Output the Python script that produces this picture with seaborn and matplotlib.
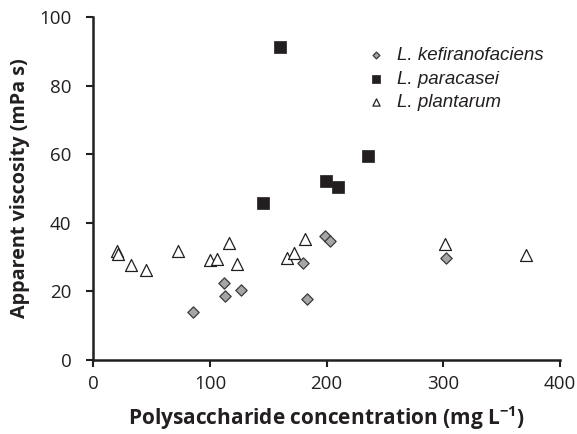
import numpy as np
import pandas as pd
import matplotlib
matplotlib.use("Agg")
import matplotlib.pyplot as plt
import seaborn as sns

# polysaccharide concentration (mg/L) vs apparent viscosity (mPa s)
kef_conc = [85.4, 111.7, 112.8, 126.3, 179.4, 183.4, 198.2, 202.7, 302.4]
kef_visc = [14.1, 22.4, 18.6, 20.4, 28.3, 17.8, 36.2, 34.7, 29.6]

para_conc = [145.7, 159.9, 199.1, 209.6, 235.3]
para_visc = [45.9, 91.2, 52.1, 50.4, 59.6]

plan_conc = [20.1, 21.2, 32.7, 45.5, 72.3, 100.3, 105.7, 116.6, 122.9,
             166.3, 172.3, 181.1, 301.8, 371.1]
plan_visc = [31.9, 31.0, 27.8, 26.3, 31.9, 29.3, 29.4, 34.0, 28.0,
             29.8, 31.1, 35.2, 33.7, 30.6]

species = ["L. kefiranofaciens", "L. paracasei", "L. plantarum"]

df = pd.concat([
    pd.DataFrame({"conc": kef_conc, "visc": kef_visc, "sp": species[0]}),
    pd.DataFrame({"conc": para_conc, "visc": para_visc, "sp": species[1]}),
    pd.DataFrame({"conc": plan_conc, "visc": plan_visc, "sp": species[2]}),
])

sns.set_style("ticks")
plt.rcParams['font.family'] = ['Open Sans', 'DejaVu Sans']
plt.rcParams['mathtext.fontset'] = 'custom'
plt.rcParams['mathtext.rm'] = 'Open Sans'
plt.rcParams['mathtext.bf'] = 'Open Sans:bold'

fig = plt.figure(figsize=(5.77, 4.34), dpi=100)
ax = fig.add_axes([0.1617, 0.1705, 0.8089, 0.7903])

styles = {
    species[0]: dict(marker="D", s=33, color="#a6a6a6", edgecolor="#3a3a3a", linewidth=0.9),
    species[1]: dict(marker="s", s=83, color="#231f20", edgecolor="#231f20", linewidth=0.5),
    species[2]: dict(marker="^", s=74, color="white", edgecolor="#231f20", linewidth=0.9),
}
for sp in species:
    sub = df[df["sp"] == sp]
    sns.scatterplot(data=sub, x="conc", y="visc", ax=ax, label=sp, zorder=3, **styles[sp])

ax.set_xlim(0, 400)
ax.set_ylim(0, 100)
ax.set_xticks([0, 100, 200, 300, 400])
ax.set_yticks([0, 20, 40, 60, 80, 100])
ax.tick_params(axis="both", labelsize=13.5, length=5, width=1.5, color="#231f20",
               labelcolor="#231f20")
ax.tick_params(axis="x", pad=6)
ax.tick_params(axis="y", pad=10.8)
for side in ["left", "bottom"]:
    ax.spines[side].set_linewidth(1.8)
    ax.spines[side].set_color("#231f20")
sns.despine(ax=ax)

ax.set_xlabel(r"Polysaccharide concentration (mg L$^{\mathbf{-1}}$)",
              fontsize=15, fontweight="bold", color="#231f20", labelpad=8)
ax.set_ylabel("Apparent viscosity (mPa s)", fontsize=14.2, fontweight="bold",
              color="#231f20", labelpad=6.5)

leg = ax.legend(loc="upper right", bbox_to_anchor=(1.0, 0.962), frameon=False,
                markerscale=0.6, handletextpad=0.1, labelspacing=0.35,
                prop={"family": "Liberation Sans", "style": "italic", "size": 13.5})
for t in leg.get_texts():
    t.set_color("#231f20")

fig.savefig("out.png", dpi=100)
